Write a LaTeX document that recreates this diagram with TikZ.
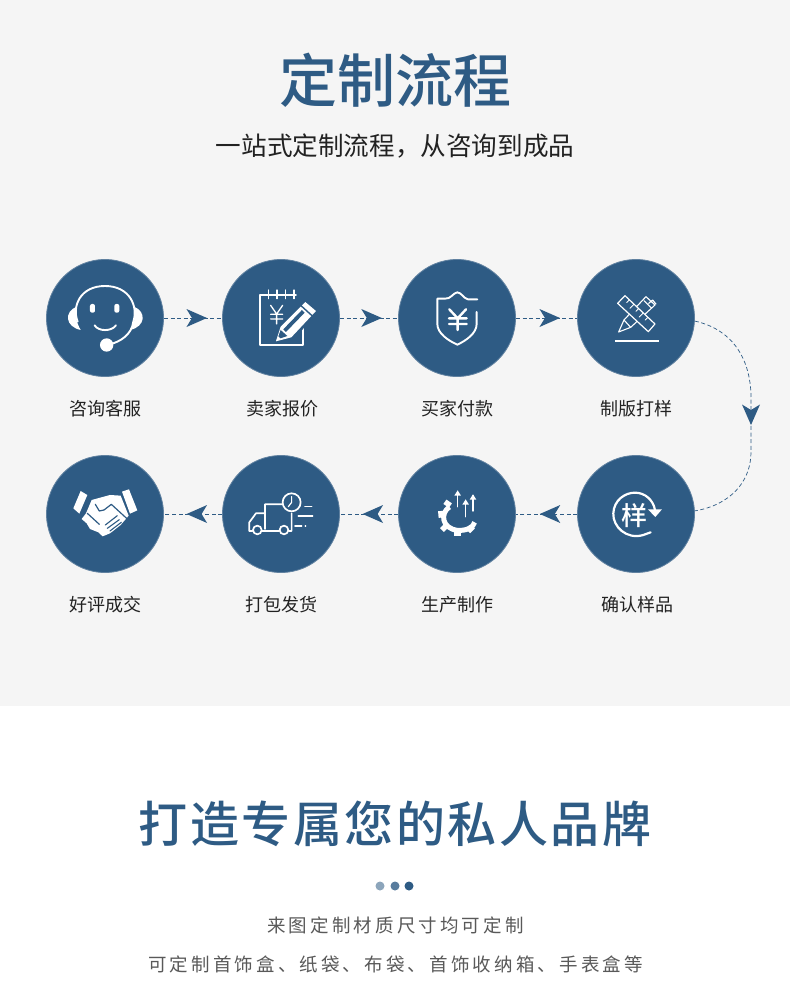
\documentclass[tikz,border=0pt]{standalone}
\usepackage{fontspec}
\setmainfont{Noto Sans CJK SC}
\newfontfamily\medf{Noto Sans CJK SC Medium}
\usetikzlibrary{decorations.markings}
\definecolor{navy}{HTML}{2E5B84}
\definecolor{panel}{HTML}{F5F5F5}
\definecolor{ink}{HTML}{222222}
\newcommand{\fs}[1]{\fontsize{#1}{#1}\selectfont}
\tikzset{
  disc/.style={circle,fill=navy,draw=navy!75!panel,line width=.8pt,minimum size=117pt,inner sep=0pt},
  lbl/.style={text=ink,inner sep=0pt,font=\fs{18}},
  wl/.style={draw=white,line width=#1,line cap=round,line join=round},
  wl/.default=1.4pt,
  bl/.style={draw=navy,line width=#1,line cap=round,line join=round},
  bl/.default=1.1pt,
  flow/.style={draw=navy,line width=.9pt,dash pattern=on 4pt off 2.6pt,
    postaction={decorate},
    decoration={markings,mark=at position #1 with {\fill[navy,solid] (0,0)--(-20.5pt,9pt)--(-15pt,0)--(-20.5pt,-9pt)--cycle;}}},
  zoomed/.style={x=.3333pt,y=-.3333pt},
}
\begin{document}
\begin{tikzpicture}[x=1pt,y=-1pt]
\useasboundingbox (0,0) rectangle (790,1000);
\fill[panel] (0,0) rectangle (790,706);
\fill[white] (0,706) rectangle (790,1000);

\node[text=navy,inner sep=0pt,font=\fs{58}\medf] (title) at (395,80) {定制流程};
\node[text=ink,inner sep=0pt,font=\fs{25.6}] (sub) at (395,146) {一站式定制流程，从咨询到成品};

\node[disc] (c1) at (105,318) {};
\node[disc] (c2) at (281,318) {};
\node[disc] (c3) at (457,318) {};
\node[disc] (c4) at (636,318) {};
\node[disc] (c5) at (636,514) {};
\node[disc] (c6) at (457,514) {};
\node[disc] (c7) at (281,514) {};
\node[disc] (c8) at (105,514) {};

\node[lbl] (l1) at (105,409) {咨询客服};
\node[lbl] (l2) at (282,409) {卖家报价};
\node[lbl] (l3) at (457,409) {买家付款};
\node[lbl] (l4) at (636,409) {制版打样};
\node[lbl] (l5) at (637,605) {确认样品};
\node[lbl] (l6) at (457,605) {生产制作};
\node[lbl] (l7) at (281,605) {打包发货};
\node[lbl] (l8) at (105,605) {好评成交};

\draw[flow=.74] (c1) -- (c2);
\draw[flow=.72] (c2) -- (c3);
\draw[flow=.72] (c3) -- (c4);
\draw[flow=.61] (c5) -- (c6);
\draw[flow=.61] (c6) -- (c7);
\draw[flow=.61] (c7) -- (c8);
\draw[flow=.53,line width=.7pt] (c4.-3) .. controls (735,330) and (751,362) .. (751,398) -- (751,452) .. controls (751,482) and (730,505) .. (c5.3);

% icon 1: headset
\begin{scope}[zoomed,shift={(30pt,-250pt)}]
\draw[wl=1.9pt] (143,215) .. controls (125,170) and (150,108) .. (225,108) .. controls (300,108) and (325,170) .. (310,215) .. controls (305,255) and (270,275) .. (240,283);
\fill[white] (140,170) .. controls (102,185) and (105,230) .. (152,240) .. controls (138,215) and (134,195) .. (140,170) --cycle;
\fill[white] (312,170) .. controls (350,185) and (347,230) .. (300,240) .. controls (316,215) and (318,195) .. (312,170) --cycle;
\fill[white,rounded corners=2pt] (180,162) rectangle (195,188);
\fill[white,rounded corners=2pt] (253,162) rectangle (268,188);
\draw[wl=1.9pt] (194,226) .. controls (205,245) and (245,245) .. (258,226);
\fill[white] (230,285) circle (20);
\end{scope}

% icon 2: note and pencil
\begin{scope}[zoomed,shift={(30pt,-250pt)}]
\draw[wl=1.9pt] (798,135) -- (690,135) -- (690,285) -- (820,285) -- (820,222);
\foreach \q in {715,741,767,792} \draw[wl=1.2pt] (\q,120) -- (\q,146);
\draw[wl=1.3pt] (722,166) -- (740,192) -- (758,166) (740,192) -- (740,222) (722,193) -- (758,193) (722,207) -- (758,207);
\fill[navy] (728,280) -- (748,222) -- (826,148) -- (868,185) -- (790,268) -- cycle;
\fill[white] (738,274) -- (752,230) -- (826,156) -- (858,183) -- (784,262) -- cycle;
\fill[navy] (742,268) -- (752,240) -- (772,258) -- cycle;
\fill[white] (739,273) -- (744,258) -- (752,266) -- cycle;
\draw[bl=1.4pt] (812,166) -- (845,196);
\fill[navy] (760,238) -- (816,180) -- (824,188) -- (768,246) -- cycle;
\end{scope}

% icon 3: shield with yen
\begin{scope}[zoomed,shift={(380pt,-250pt)}]
\draw[wl=1.9pt] (292,148) -- (264,148) .. controls (250,145) and (245,128) .. (232,127) .. controls (220,128) and (212,148) .. (195,146) -- (172,146) -- (172,222) .. controls (172,250) and (205,272) .. (232,284) .. controls (258,272) and (290,250) .. (290,222) -- (290,186);
\draw[wl=2.4pt] (208,178) -- (233,205) -- (258,178) (233,205) -- (233,240) (207,205) -- (260,205) (207,222) -- (260,222);
\end{scope}

% icon 4: ruler and pencil
\begin{scope}[zoomed,shift={(380pt,-250pt)}]
\draw[wl=1.1pt] (732,210) -- (798,140) (752,232) -- (825,165);
\draw[wl=1.1pt] (798,140) -- (825,165) (792,152) -- (815,175) (806,160) -- (818,150) -- (828,162) (732,210) -- (716,246) -- (752,232) -- cycle;
\fill[navy] (735,137) -- (825,222) -- (805,245) -- (713,160) -- cycle;
\draw[wl=1.2pt] (735,137) -- (825,222) -- (805,245) -- (713,160) -- cycle;
\draw[wl=.9pt] (748,150) -- (740,158) (762,163) -- (750,175) (776,176) -- (768,184) (790,189) -- (778,201) (804,202) -- (796,210);
\draw[wl=1.2pt,line cap=butt] (705,273) -- (836,273);
\end{scope}

% icon 5: sample cycle
\begin{scope}[zoomed,shift={(380pt,-445pt)}]
\node[text=white,inner sep=0pt,font=\fs{26}\medf] (yang) at (765,212) {样};
\draw[wl=2.2pt] (812,262) -- (790,270) .. controls (740,285) and (698,245) .. (700,205) .. controls (702,165) and (735,143) .. (765,143) .. controls (795,143) and (820,165) .. (825,195);
\fill[white] (804,193) -- (846,193) -- (826,216) -- cycle;
\end{scope}

% icon 6: gear and arrows
\begin{scope}[zoomed,shift={(380pt,-445pt)}]
\draw[wl=5pt,line cap=butt] (208,186) .. controls (180,205) and (185,250) .. (232,256) .. controls (258,258) and (280,248) .. (284,232);
\foreach \a/\b/\r in {203/176/-35,183/208/-85,193/248/-135,232/266/0,272/252/45}
  \fill[white,rotate around={\r:(\a,\b)}] (\a-10,\b-8) rectangle (\a+10,\b+8);
\foreach \q/\t/\u in {233/185/140,257/215/167,279/198/152} {
  \draw[wl=1.4pt] (\q,\t) -- (\q,\u);
  \fill[white] (\q,\u-4) -- (\q-10,\u+12) -- (\q+10,\u+12) -- cycle;
}
\end{scope}

% icon 7: truck
\begin{scope}[zoomed,shift={(30pt,-445pt)}]
\draw[wl=1.7pt] (758,178) -- (705,178) -- (705,252) (705,205) -- (678,205) -- (658,232) -- (658,258) -- (668,258) (696,258) -- (748,258) (776,258) -- (785,258) -- (785,205);
\draw[wl=1.7pt] (682,255) circle (13) (762,255) circle (13);
\draw[wl=1.7pt] (785,172) circle (27);
\draw[wl=1.2pt] (785,155) -- (785,172) -- (775,185);
\draw[wl=1.6pt] (825,185) -- (845,185) (805,213) -- (848,213) (795,243) -- (815,243) (826,243) -- (827,243);
\end{scope}

% icon 8: handshake
\begin{scope}[zoomed,shift={(30pt,-445pt)}]
\fill[white] (152,138) -- (172,150) -- (148,206) -- (130,190) -- cycle;
\fill[white] (276,140) -- (297,133) -- (322,196) -- (300,206) -- cycle;
\fill[white] (185,165) -- (240,150) -- (272,152) -- (296,212) -- (272,240) -- (240,265) -- (218,274) -- (205,262) -- (180,252) -- (170,235) -- (155,222) -- (168,205) -- cycle;
\draw[bl=1.2pt] (172,205) -- (208,238) (222,195) -- (244,178) -- (292,222);
\draw[bl=1.2pt] (222,195) -- (208,198) -- (196,178);
\draw[bl=1.1pt] (226,240) -- (262,212) (232,250) -- (268,224) (240,258) -- (274,232);
\end{scope}

\node[text=navy,inner sep=0pt,font=\fs{49}\medf\addfontfeature{LetterSpace=5}] (brand) at (395,824) {打造专属您的私人品牌};
\fill[navy!55!white] (380,886) circle (4.5);
\fill[navy!80!white] (395,886) circle (4.5);
\fill[navy] (409,886) circle (4.5);
\node[text=black!65,inner sep=0pt,font=\fs{18.5}\addfontfeature{LetterSpace=17}] (d1) at (395.5,925) {来图定制材质尺寸均可定制};
\node[text=black!65,inner sep=0pt,font=\fs{18.5}\addfontfeature{LetterSpace=17}] (d2) at (395.5,964) {可定制首饰盒、纸袋、布袋、首饰收纳箱、手表盒等};
\end{tikzpicture}
\end{document}
